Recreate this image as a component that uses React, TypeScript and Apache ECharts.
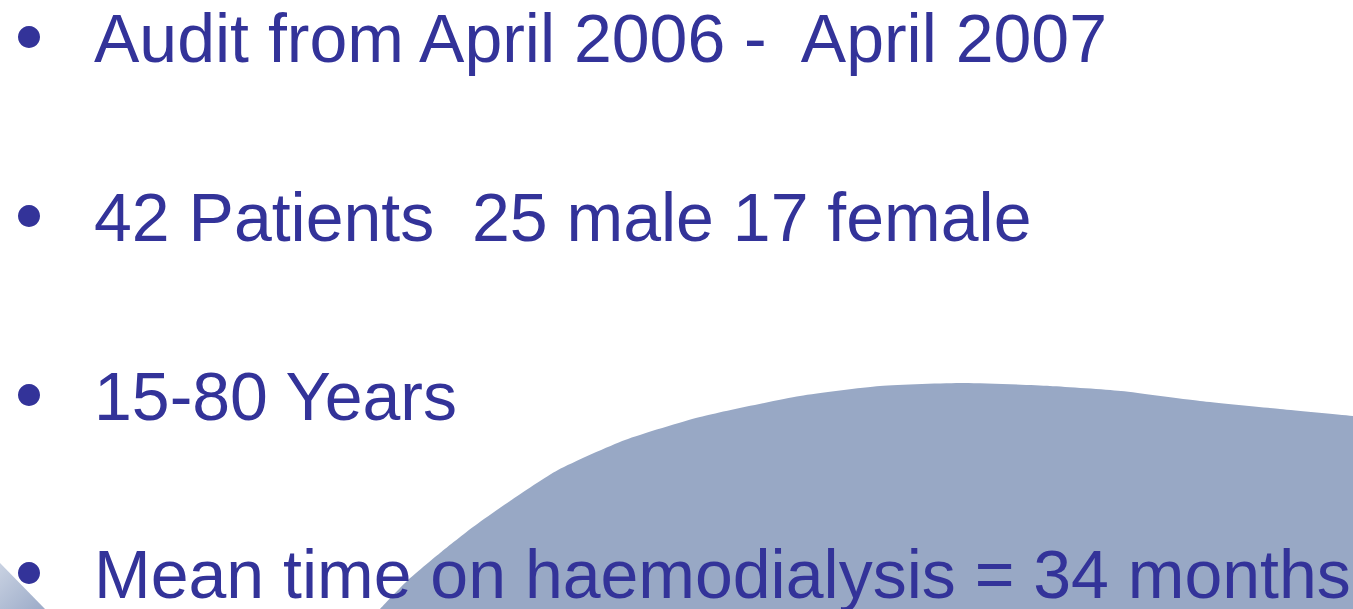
import React, { useEffect, useRef } from "react";
import * as echarts from "echarts";

const bulletLines: string[] = [
  "Audit from April 2006 -  April 2007",
  "42 Patients  25 male 17 female",
  "15-80 Years",
  "Mean time on haemodialysis = 34 months",
];
const baselines: number[] = [62, 241, 420, 598];

const blobEdge: number[][] = [
  [340, 650], [380, 609], [407, 581], [440, 553], [473, 527], [510, 501], [558, 470],
  [625, 440], [700, 417], [800, 396], [880, 386], [964, 383], [1050, 386],
  [1121, 391], [1200, 401], [1280, 409], [1353, 416], [1420, 422],
];

export default function App() {
  const ref = useRef<HTMLDivElement>(null);
  useEffect(() => {
    document.body.style.margin = "0";
    const chart = echarts.init(ref.current!, null, { renderer: "svg" });
    const textColor = "#333399";
    const font = "'Liberation Sans', Arial, sans-serif";
    const blobPoints = [...blobEdge, [1450, 700], [320, 700]];
    const elements: any[] = [
      {
        type: "polygon",
        shape: { points: blobPoints, smooth: 0.2 },
        style: { fill: "#98a8c5" },
        z: 1,
      },
      {
        type: "polygon",
        shape: { points: [[0, 563], [45, 609], [0, 609]] },
        style: {
          fill: new echarts.graphic.LinearGradient(0, 0, 1, 1, [
            { offset: 0, color: "#c9d2e2" },
            { offset: 1, color: "#9cabc8" },
          ]),
        },
        z: 1,
      },
    ];
    bulletLines.forEach((t, i) => {
      const b = baselines[i];
      elements.push({
        type: "circle",
        shape: { cx: 29, cy: b - 25, r: 11 },
        style: { fill: textColor },
        z: 5,
      });
      elements.push({
        type: "text",
        x: 94,
        y: b - 23.6,
        style: {
          text: t,
          fill: textColor,
          font: `68px ${font}`,
          fontSize: 68,
          fontFamily: font,
          verticalAlign: "middle",
          align: "left",
        },
        z: 5,
      });
    });
    chart.setOption({
      animation: false,
      backgroundColor: "#ffffff",
      graphic: { elements },
    });
    return () => chart.dispose();
  }, []);
  return <div ref={ref} style={{ width: 1353, height: 609, overflow: "hidden" }} />;
}
